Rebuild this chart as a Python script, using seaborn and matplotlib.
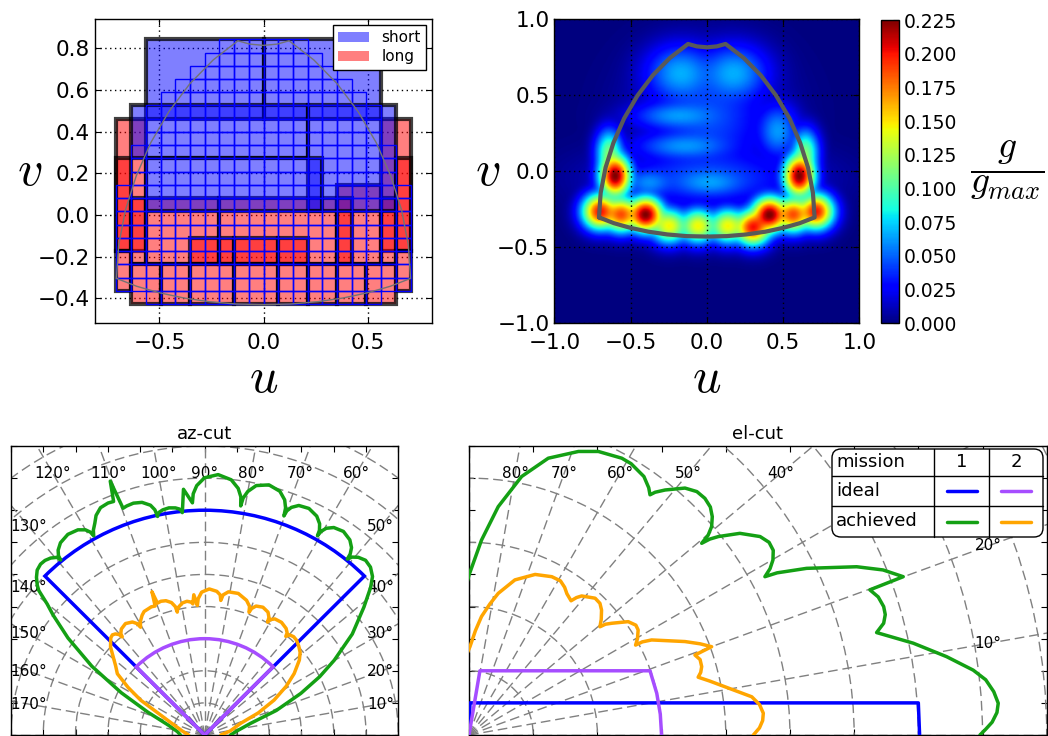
import numpy as np
import matplotlib
matplotlib.use("Agg")
import matplotlib.pyplot as plt
from matplotlib.patches import Rectangle, Wedge, Patch, FancyBboxPatch, Circle
from matplotlib.lines import Line2D
from matplotlib.ticker import MultipleLocator
from matplotlib.transforms import IdentityTransform
import seaborn as sns

# ---------------- data ----------------
# beam layout (top left): 20 x 20 grid of cells, beams given as (col0, col1, row0, row1)
cell_du, cell_dv = 0.0707, 0.0635
grid_u0, grid_v0 = -0.707, 0.843
row_first_col = [7, 6, 5, 4, 3, 2, 2, 2, 1, 1, 1, 0, 0, 0, 0, 0, 0, 0, 0, 2]
short_beams = [(2, 9, 0, 5), (10, 17, 0, 5), (1, 12, 5, 8), (13, 18, 5, 12), (2, 13, 9, 12)]
long_beams = [(0, 1, 6, 15), (0, 0, 9, 15), (1, 1, 12, 16),
              (18, 19, 6, 15), (19, 19, 9, 15), (18, 18, 12, 16),
              (2, 6, 12, 16), (7, 14, 12, 16), (15, 17, 11, 16), (15, 15, 12, 16),
              (5, 6, 15, 16), (7, 7, 15, 16), (8, 10, 15, 16), (11, 12, 15, 16),
              (0, 0, 16, 18), (19, 19, 16, 18),
              (1, 2, 17, 19), (3, 4, 17, 19), (5, 7, 17, 19), (8, 10, 17, 19),
              (11, 12, 17, 19), (13, 14, 17, 19), (15, 16, 17, 19), (17, 18, 17, 19)]

# coverage footprint outline in (u, v)
fp_u = [-0.707, -0.696, -0.664, -0.612, -0.542, -0.455, -0.354, -0.242, -0.123, -0.066, 0.0,
        0.066, 0.123, 0.242, 0.354, 0.455, 0.542, 0.612, 0.664, 0.696, 0.707,
        0.609, 0.5, 0.383, 0.259, 0.131, 0.0, -0.131, -0.259, -0.383, -0.5, -0.609, -0.707]
fp_v = [-0.304, -0.143, 0.023, 0.187, 0.347, 0.496, 0.630, 0.744, 0.836, 0.820, 0.814,
        0.820, 0.836, 0.744, 0.630, 0.496, 0.347, 0.187, 0.023, -0.143, -0.304,
        -0.342, -0.373, -0.398, -0.416, -0.427, -0.430, -0.427, -0.416, -0.398, -0.373, -0.342, -0.304]

# gain map g/gmax: lobes (u, v, peak, width u, width v)
heat_u = [-0.600, 0.610, -0.700, -0.560, -0.400, -0.245, -0.055, 0.140, 0.305, 0.415, 0.570, 0.720,
          -0.17, 0.18, -0.20, -0.15, 0.47, -0.38, 0.02, -0.64, 0.65, 0.0, 0.0]
heat_v = [-0.035, -0.035, -0.270, -0.290, -0.290, -0.365, -0.365, -0.365, -0.375, -0.290, -0.290, -0.270,
          0.64, 0.64, 0.36, 0.16, 0.26, -0.08, -0.08, 0.12, 0.12, 0.35, -0.05]
heat_g = [0.225, 0.225, 0.200, 0.185, 0.225, 0.145, 0.145, 0.145, 0.200, 0.225, 0.185, 0.200,
          0.066, 0.066, 0.058, 0.058, 0.062, 0.056, 0.056, 0.11, 0.11, 0.045, 0.045]
heat_su = [0.075, 0.075, 0.085, 0.085, 0.085, 0.09, 0.09, 0.09, 0.085, 0.085, 0.085, 0.085,
           0.17, 0.17, 0.22, 0.24, 0.10, 0.12, 0.18, 0.065, 0.065, 0.30, 0.45]
heat_sv = [0.10, 0.10, 0.085, 0.085, 0.085, 0.085, 0.085, 0.085, 0.085, 0.085, 0.085, 0.085,
           0.14, 0.14, 0.07, 0.07, 0.13, 0.07, 0.07, 0.11, 0.11, 0.28, 0.14]

# az-cut: ideal gain (mission 1, 2) over 45..135 deg, achieved patterns (deg, gain)
az_ideal_gain = [7.0, 3.0]
az_ideal_span = (45, 135)
az_ach1_t = [0, 7, 14.3, 19, 23.5, 27, 30.1, 34.5, 38.9, 41.8, 43.5, 45.5, 47.5, 49.3, 50.5,
             51.1, 51.34, 52.05, 53.48, 55.85, 58.23, 59.65, 60.36,
             60.6, 60.84, 61.56, 63.0, 65.4, 67.8, 69.24, 69.96,
             70.2, 70.47, 71.29, 72.93, 75.65, 78.38, 80.01, 80.83,
             81.1, 81.4, 82.29, 84.08, 87.05, 90.03, 91.81, 92.7, 93.0,
             94.9, 95.7, 95.86, 96.34, 97.3, 98.9, 100.5, 101.46, 101.94,
             102.1, 102.4, 103.2, 105, 107, 108.7, 109.7, 110.3, 111.2,
             112.5, 114.5, 116.2, 117.3, 118.4,
             119, 119.26, 120.03, 121.58, 124.15, 126.73, 128.27, 129.04,
             129.3, 129.6, 130.9, 132.3, 133.7, 135.3, 136.7, 138.0, 138.8,
             140.1, 141.5, 144.5, 148.5, 153, 158, 165, 173, 180]
az_ach1_r = [0.8, 1.0, 1.47, 2.35, 3.25, 4.0, 4.64, 5.55, 6.34, 6.9, 7.17, 7.33, 7.38, 7.3, 7.18,
             7.04, 7.22, 7.40, 7.56, 7.66, 7.60, 7.46, 7.30,
             7.12, 7.30, 7.48, 7.65, 7.76, 7.72, 7.58, 7.43,
             7.25, 7.50, 7.73, 7.94, 8.04, 7.93, 7.70, 7.47,
             7.22, 7.50, 7.75, 7.99, 8.12, 8.01, 7.77, 7.52, 7.24,
             7.68, 6.96, 7.02, 7.08, 7.13, 7.16, 7.13, 7.08, 7.02,
             6.96, 7.18, 7.35, 7.5, 7.55, 7.53, 7.5, 8.43, 7.8,
             7.82, 7.78, 7.62, 7.42, 7.25,
             7.09, 7.24, 7.38, 7.50, 7.55, 7.47, 7.33, 7.19,
             7.04, 7.18, 7.29, 7.35, 7.36, 7.3, 7.16, 6.98, 6.83,
             6.36, 6.0, 5.2, 4.1, 2.9, 1.9, 1.15, 0.85, 0.75]
az_ach2_t = [0, 9, 18, 22.5, 26.8, 31, 34.6, 38.5, 41, 43.5, 46, 48, 49.8,
             50.7, 51.2, 52.76, 55.85, 58.94, 60.49,
             61.0, 61.46, 62.84, 65.6, 68.36, 69.74,
             70.2, 70.85, 72.8, 76.7, 80.6, 82.55,
             83.2, 83.7, 85.2, 88.2, 91.2, 92.7, 93.2, 94.4,
             95.1, 95.8, 97.5, 99.5, 101.2, 102.1,
             102.5, 102.8, 104, 106, 108, 109.6, 110.1, 110.9,
             112.5, 114, 116, 117.5, 119.5,
             120.6, 121.07, 122.46, 125.25, 128.04, 129.43,
             129.9, 130.3, 131.3, 132.5, 133.8, 134.7, 136.8, 139.5, 142, 144.8, 148, 151.3, 158, 170, 180]
az_ach2_r = [0.5, 0.8, 1.17, 1.8, 2.41, 2.95, 3.37, 3.75, 3.92, 4.02, 4.1, 4.12, 4.08,
             3.97, 4.08, 4.17, 4.24, 4.22, 4.13,
             4.02, 4.17, 4.30, 4.37, 4.32, 4.20,
             4.06, 4.24, 4.39, 4.53, 4.52, 4.40,
             4.22, 4.39, 4.49, 4.55, 4.45, 4.25, 4.04, 4.38,
             4.1, 4.16, 4.2, 4.17, 4.08, 4.0,
             3.92, 4.1, 4.25, 4.35, 4.38, 4.36, 4.75, 4.3,
             4.32, 4.3, 4.28, 4.2, 4.05,
             3.9, 4.05, 4.17, 4.25, 4.19, 4.09,
             3.98, 4.1, 4.19, 4.23, 4.2, 4.14, 4.0, 3.72, 3.5, 3.31, 2.8, 2.26, 1.25, 0.7, 0.5]

# el-cut patterns (horizontal, vertical components of gain)
el_ideal1_x = [0.0, 0.03, 14.0, 14.04]
el_ideal1_y = [0.0, 1.0, 1.0, 0.0]
el_ideal2_x = [0.0, 0.34, 5.64, 5.85, 5.96, 6.0]
el_ideal2_y = [0.0, 2.0, 2.0, 1.3, 0.65, 0.0]
el_ach1_x = [-0.1, 0.0, 0.39, 0.91, 1.64, 2.47, 3.41, 4.03, 4.76, 5.05, 5.45, 5.6, 5.64,
             5.8, 6.11, 6.73, 7.1, 7.35, 7.52, 7.58, 7.56, 7.45, 7.25,
             7.5, 7.77, 8.44, 9.07, 9.35, 9.48, 9.47, 9.38, 9.22,
             9.6, 10.52, 12.08, 12.9, 13.53, 12.49,
             12.75, 12.92, 12.97, 12.92, 12.7,
             13.84, 14.88, 15.71, 16.1, 16.35, 16.49, 16.45, 16.3, 16.1, 15.92]
el_ach1_y = [4.6, 4.98, 6.07, 7.11, 8.05, 8.62, 8.83, 8.83, 8.62, 8.45, 8.05, 7.7, 7.48,
             7.56, 7.63, 7.69, 7.58, 7.37, 7.1, 6.8, 6.49, 6.22, 5.97,
             6.1, 6.18, 6.28, 6.18, 6.0, 5.75, 5.45, 5.18, 4.93,
             5.05, 5.19, 5.24, 5.14, 4.93, 4.52,
             4.3, 4.0, 3.75, 3.48, 3.19,
             2.86, 2.44, 2.02, 1.72, 1.35, 0.99, 0.7, 0.4, 0.18, 0.0]
el_ach2_x = [-0.1, 0.03, 0.2, 0.39, 0.65, 0.91, 1.43, 2.06, 2.58, 2.85, 2.98, 3.05, 3.18,
             3.35, 3.51, 3.93, 4.08, 4.13, 4.12, 4.08,
             4.25, 4.45, 4.96, 5.2, 5.27, 5.25, 5.19,
             5.4, 5.69, 6.73, 7.2, 7.56, 7.04,
             7.2, 7.25, 7.22, 7.14,
             7.5, 7.98, 8.81, 9.05, 9.17, 9.15, 9.05, 8.86]
el_ach2_y = [2.45, 2.75, 3.25, 3.69, 4.08, 4.41, 4.83, 5.0, 4.93, 4.8, 4.6, 4.4, 4.18,
             4.28, 4.33, 4.26, 4.1, 3.89, 3.6, 3.37,
             3.45, 3.48, 3.53, 3.42, 3.27, 3.0, 2.8,
             2.9, 2.96, 2.91, 2.84, 2.75, 2.49,
             2.35, 2.13, 1.95, 1.8,
             1.68, 1.5, 1.19, 0.95, 0.68, 0.45, 0.22, 0.0]

c_ideal1, c_ideal2 = "#0000ff", "#a64dff"
c_ach1, c_ach2 = "#14a014", "#ffa500"

# ---------------- style ----------------
sns.set_style("ticks")
plt.rcParams.update({
    "font.family": ["DejaVu Sans"],
    "mathtext.fontset": "cm",
    "text.color": "black", "axes.labelcolor": "black",
    "axes.edgecolor": "black", "axes.linewidth": 1.0,
    "xtick.color": "black", "ytick.color": "black",
    "xtick.direction": "in", "ytick.direction": "in",
    "xtick.top": True, "ytick.right": True,
    "xtick.major.size": 4, "ytick.major.size": 4,
})

W, H = 1048.0, 736.0
fig = plt.figure(figsize=(W / 100, H / 100), dpi=100)


def frac(x0, y0, x1, y1):
    return [x0 / W, 1 - y1 / H, (x1 - x0) / W, (y1 - y0) / H]


def cell_box(c0, c1, r0, r1):
    w = (c1 - c0 + 1) * cell_du
    h = (r1 - r0 + 1) * cell_dv
    return (grid_u0 + c0 * cell_du, grid_v0 - r0 * cell_dv - h), w, h


ax1 = fig.add_axes(frac(95, 19, 432, 323))
ax2 = fig.add_axes(frac(554.3, 19, 859.3, 323.3))
cax = fig.add_axes(frac(881, 20, 899, 323.3))
ax3 = fig.add_axes(frac(11, 446, 398.3, 735))
ax4 = fig.add_axes(frac(469, 446, 1046.7, 735))

dotted = (0, (1, 2.5))

# ---------------- top left: beam layout ----------------
for c0, c1, r0, r1 in long_beams:
    ax1.add_patch(Rectangle(*cell_box(c0, c1, r0, r1), facecolor=(1, 0, 0, 0.5),
                            edgecolor=(0, 0, 0, 0.75), lw=3, zorder=2))
for c0, c1, r0, r1 in short_beams:
    ax1.add_patch(Rectangle(*cell_box(c0, c1, r0, r1), facecolor=(0, 0, 1, 0.5),
                            edgecolor=(0, 0, 0, 0.75), lw=3, zorder=2))
for r, first in enumerate(row_first_col):
    for c in range(first, 20 - first):
        ax1.add_patch(Rectangle(*cell_box(c, c, r, r), fill=False, edgecolor="blue", lw=1, zorder=3))
sns.lineplot(x=fp_u, y=fp_v, sort=False, estimator=None, color="0.45", lw=1, ax=ax1, zorder=4)
ax1.set_xlim(-0.81, 0.81)
ax1.set_ylim(-0.518, 0.9405)
ax1.set_xticks([-0.5, 0.0, 0.5])
ax1.set_yticks([-0.4, -0.2, 0.0, 0.2, 0.4, 0.6, 0.8])
ax1.grid(True, ls=dotted, color="k", lw=1)
ax1.set_axisbelow(True)
ax1.tick_params(labelsize=15.5)
ax1.tick_params(axis="x", pad=7)
ax1.legend(handles=[Patch(facecolor=(0, 0, 1, 0.5), edgecolor="none", label="short"),
                    Patch(facecolor=(1, 0, 0, 0.5), edgecolor="none", label="long")],
           loc="upper right", fontsize=11, fancybox=False, framealpha=1, edgecolor="black",
           borderaxespad=0.4, handlelength=2.0, labelspacing=0.25, borderpad=0.35)
ax1.set_xlabel("$u$", fontsize=36, va="center")
ax1.xaxis.set_label_coords(0.5, -0.18)
ax1.set_ylabel("$v$", fontsize=36, rotation=0, ha="center", va="center")
ax1.yaxis.set_label_coords(-0.195, 0.5)

# ---------------- top right: gain map ----------------
uu, vv = np.meshgrid(np.linspace(-1, 1, 401), np.linspace(-1, 1, 401))
lobes = [g * np.exp(-0.5 * (((uu - u0) / su) ** 2 + ((vv - v0) / sv) ** 2))
         for u0, v0, g, su, sv in zip(heat_u, heat_v, heat_g, heat_su, heat_sv)]
field = np.sum([l ** 3 for l in lobes], axis=0) ** (1 / 3)
im = ax2.imshow(field, extent=(-1, 1, -1, 1), origin="lower", cmap="jet", vmin=0, vmax=0.225,
                aspect="auto", interpolation="bilinear", zorder=0)
sns.lineplot(x=fp_u, y=fp_v, sort=False, estimator=None, color="0.35", lw=3, ax=ax2, zorder=3)
ax2.set_xlim(-1, 1)
ax2.set_ylim(-1, 1)
ax2.set_xticks([-1.0, -0.5, 0.0, 0.5, 1.0])
ax2.set_yticks([-1.0, -0.5, 0.0, 0.5, 1.0])
ax2.grid(True, ls=dotted, color="k", lw=1)
ax2.set_axisbelow(False)
ax2.tick_params(labelsize=15.5)
ax2.tick_params(axis="x", pad=7)
ax2.set_xlabel("$u$", fontsize=36, va="center")
ax2.xaxis.set_label_coords(0.5, -0.18)
ax2.set_ylabel("$v$", fontsize=36, rotation=0, ha="center", va="center")
ax2.yaxis.set_label_coords(-0.22, 0.5)

cb = fig.colorbar(im, cax=cax)
cb.set_ticks([0.0, 0.025, 0.05, 0.075, 0.1, 0.125, 0.15, 0.175, 0.2, 0.225])
cb.ax.yaxis.set_major_formatter("{x:.3f}")
cb.ax.tick_params(labelsize=13.5, direction="in", length=4)
cb.outline.set_linewidth(1)
fig.text(1007 / W, 1 - 170 / H, r"$\dfrac{g}{g_{max}}$", fontsize=27, ha="center", va="center")


# ---------------- bottom: polar cuts ----------------
def polar_grid(ax, angles, rings, rmax):
    for a in angles:
        t = np.deg2rad(a)
        ax.plot([0, rmax * np.cos(t)], [0, rmax * np.sin(t)], ls=(0, (7, 3.5)), color="0.5",
                lw=1, zorder=1)
    for r in rings:
        ax.add_patch(Circle((0, 0), r, fill=False, ls=(0, (7, 3.5)), ec="0.5", lw=1, zorder=1))


def angle_labels(ax, angles, x_left, x_right, y_top):
    for a in angles:
        t = np.deg2rad(a)
        c, s = np.cos(t), np.sin(t)
        cand = [y_top / s]
        if c > 1e-9 and x_right is not None:
            cand.append(x_right / c)
        if c < -1e-9 and x_left is not None:
            cand.append(x_left / c)
        d = min(cand)
        ax.text(d * c, d * s, f"{a}°", fontsize=11, ha="center", va="center", zorder=3)


def to_xy(theta, r):
    t = np.deg2rad(theta)
    return np.asarray(r) * np.cos(t), np.asarray(r) * np.sin(t)


for ax in (ax3, ax4):
    ax.tick_params(labelbottom=False, labelleft=False, length=4, direction="in",
                   top=True, right=True)

# az-cut
polar_grid(ax3, range(0, 181, 10), range(1, 12), 12)
angle_labels(ax3, range(10, 180, 10), -5.46, 5.46, 8.15)
ax3.add_patch(Wedge((0, 0), az_ideal_gain[0], *az_ideal_span, fill=False, ec=c_ideal1, lw=2.5, zorder=4))
x, y = to_xy(az_ach1_t, az_ach1_r)
sns.lineplot(x=x, y=y, sort=False, estimator=None, color=c_ach1, lw=2.5, ax=ax3, zorder=4)
ax3.add_patch(Wedge((0, 0), az_ideal_gain[1], *az_ideal_span, fill=False, ec=c_ideal2, lw=2.5, zorder=4))
x, y = to_xy(az_ach2_t, az_ach2_r)
sns.lineplot(x=x, y=y, sort=False, estimator=None, color=c_ach2, lw=2.5, ax=ax3, zorder=4)
ax3.set_xlim(-6, 6)
ax3.set_ylim(0, 9)
ax3.xaxis.set_major_locator(MultipleLocator(1))
ax3.yaxis.set_major_locator(MultipleLocator(1))
ax3.set_title("az-cut", fontsize=13, pad=5)

# el-cut
polar_grid(ax4, range(0, 91, 10), range(2, 22, 2), 22)
angle_labels(ax4, range(10, 90, 10), None, 16.18, 8.15)
sns.lineplot(x=el_ideal1_x, y=el_ideal1_y, sort=False, estimator=None, color=c_ideal1, lw=2.5, ax=ax4, zorder=4)
sns.lineplot(x=el_ach1_x, y=el_ach1_y, sort=False, estimator=None, color=c_ach1, lw=2.5, ax=ax4, zorder=4)
sns.lineplot(x=el_ideal2_x, y=el_ideal2_y, sort=False, estimator=None, color=c_ideal2, lw=2.5, ax=ax4, zorder=4)
sns.lineplot(x=el_ach2_x, y=el_ach2_y, sort=False, estimator=None, color=c_ach2, lw=2.5, ax=ax4, zorder=4)
ax4.set_xlim(0, 18)
ax4.set_ylim(0, 9)
ax4.xaxis.set_major_locator(MultipleLocator(2))
ax4.yaxis.set_major_locator(MultipleLocator(1))
ax4.set_title("el-cut", fontsize=13, pad=5)

# legend table (pixel positions)
ident = IdentityTransform()


def P(px, py):
    return px, H - py


tx0, tx1, ty0, ty1 = 832, 1043, 449, 537
col_x = [934.3, 989.3]
row_y = [475.7, 506]
fig.add_artist(FancyBboxPatch(P(tx0, ty1), tx1 - tx0, ty1 - ty0,
                              boxstyle="round,pad=0,rounding_size=9", fc="white", ec="black",
                              lw=1, transform=ident, zorder=5))
for cx in col_x:
    fig.add_artist(Line2D(*zip(P(cx, ty0), P(cx, ty1)), color="black", lw=1, transform=ident, zorder=6))
for ry in row_y:
    fig.add_artist(Line2D(*zip(P(tx0, ry), P(tx1, ry)), color="black", lw=1, transform=ident, zorder=6))
col_c = [(col_x[0] + col_x[1]) / 2, (col_x[1] + tx1) / 2]
row_c = [(ty0 + row_y[0]) / 2, (row_y[0] + row_y[1]) / 2, (row_y[1] + ty1) / 2]
for txt, ry in zip(["mission", "ideal", "achieved"], row_c):
    fig.text(*P(tx0 + 4, ry), txt, fontsize=13, ha="left", va="center", transform=ident, zorder=6)
for txt, cx in zip(["1", "2"], col_c):
    fig.text(*P(cx, row_c[0]), txt, fontsize=13, ha="center", va="center", transform=ident, zorder=6)
for cx, (ca, cb_) in zip(col_c, [(c_ideal1, c_ach1), (c_ideal2, c_ach2)]):
    for ry, col in zip(row_c[1:], (ca, cb_)):
        fig.add_artist(Line2D(*zip(P(cx - 15, ry), P(cx + 15, ry)), color=col, lw=2.5,
                              transform=ident, zorder=6))

fig.savefig("out.png", dpi=100)
